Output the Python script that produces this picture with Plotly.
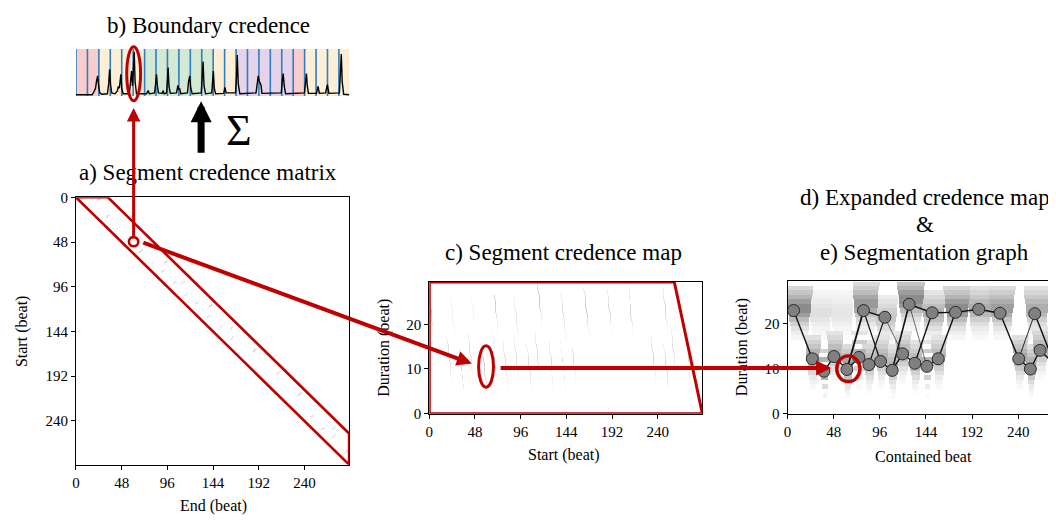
import numpy as np
import plotly.graph_objects as go

W, H = 1056, 527
OFF = 8  # page body margin of the default html template
N_BEATS = 287
N_DUR = 30
FONT = "Liberation Serif"
RED = "#c00000"

# ---------------- data ----------------
# b) boundary credence curve
boundary_x = [0, 17, 19, 20.5, 21.5, 22.7, 23.8, 25, 27,
              33, 34.3, 35.3, 36.3, 37.5, 41,
              43.5, 44.4, 45.5, 46.3, 47.1, 48, 49.5,
              56, 57.3, 58.3, 59.3, 60.2, 61.1, 62, 63.5,
              74, 75.8, 77,
              82.5, 83.6, 84.5, 85.5, 86.5,
              90.5, 91.4, 92.5,
              95, 95.9, 96.7, 97.6, 99,
              105.5, 107, 108, 108.8, 110,
              117, 118.2, 119.4, 120.5, 122,
              131.5, 132.5, 133.4, 134.4, 136,
              142.5, 143.4, 144.2, 145.2, 146.5,
              155, 156.4, 157.5,
              167.5, 168.5, 169.3, 170.3, 172,
              189, 190.3, 191.3, 192.3, 193.2, 194.2, 195.2,
              215.5, 216.5, 217.5, 218.6, 220,
              239.8, 241, 241.9, 242.8, 244,
              252.5, 254.1, 255.5,
              262, 263.9, 265.5,
              276.5, 277.6, 278.5, 279.4, 281, 287]
boundary_y = [0.01, 0.01, 0.08, 0.15, 0.3, 0.42, 0.2, 0.05, 0.02,
              0.03, 0.25, 0.56, 0.22, 0.05, 0.03,
              0.1, 0.19, 0.15, 0.3, 0.45, 0.15, 0.03,
              0.03, 0.3, 0.52, 0.2, 0.5, 0.94, 0.3, 0.03,
              0.03, 0.1, 0.03,
              0.05, 0.25, 0.45, 0.2, 0.05,
              0.04, 0.1, 0.03,
              0.05, 0.3, 0.6, 0.2, 0.04,
              0.05, 0.21, 0.12, 0.15, 0.03,
              0.05, 0.3, 0.42, 0.15, 0.03,
              0.05, 0.35, 0.73, 0.2, 0.03,
              0.05, 0.3, 0.52, 0.15, 0.03,
              0.04, 0.17, 0.05,
              0.05, 0.4, 0.87, 0.25, 0.03,
              0.05, 0.25, 0.42, 0.3, 0.26, 0.22, 0.04,
              0.05, 0.3, 0.47, 0.2, 0.03,
              0.05, 0.3, 0.47, 0.2, 0.04,
              0.04, 0.19, 0.04,
              0.05, 0.23, 0.04,
              0.05, 0.45, 0.89, 0.3, 0.02, 0.01]
downbeats = [0, 12, 24, 36, 48, 60, 72, 84, 96, 108, 120, 132, 144, 156,
             168, 180, 192, 204, 216, 228, 240, 252, 264, 276]
section_start = [0, 24, 72, 144, 168, 228, 240]
section_end = [24, 72, 144, 168, 228, 240, 287]
section_label = ["A", "B", "C", "B", "D", "A", "B"]
section_color = {"A": "#f9cdcd", "B": "#fdefd5", "C": "#d4e9d4", "D": "#e5d3e9"}

# candidate segments (start, duration, credence)
cand_start = [1.5, 24, 46, 70, 92, 116, 141, 165, 189, 212, 248,
              21, 34, 43, 58, 69, 80, 92, 105, 114, 128, 141, 152, 236, 249, 257, 273]
cand_dur = [23, 22, 22, 24, 21, 25, 22, 23, 23, 23, 23,
            12, 9.5, 13, 10, 12.5, 11, 12, 10, 13, 11, 10.5, 12, 12, 10, 14, 11]
cand_cred = [0.45, 0.12, 0.10, 0.40, 0.22, 0.45, 0.30, 0.45, 0.32, 0.38, 0.32,
             0.35, 0.35, 0.30, 0.40, 0.30, 0.30, 0.30, 0.30, 0.30, 0.30, 0.30, 0.30,
             0.35, 0.35, 0.30, 0.30]
# relative credence of neighbouring durations around a candidate
profile_offset = [-6, -5, -4, -3, -2, -1, 0, 1, 2, 3, 4, 5]
profile_value = [0.08, 0.15, 0.25, 0.4, 0.6, 0.85, 1.0, 1.0, 0.85, 0.65, 0.5, 0.35]

# e) segmentation graph nodes (contained beat, duration) and edges
node_x = [6.2, 25.7, 37.8, 48.2, 61.7, 74.2, 79.0, 84.6, 96.7, 101.2, 108.8, 119.6, 126.5,
          132.4, 144.9, 150.4, 156.7, 174.7, 198.9, 221.1, 240.5, 252.6, 257.2, 262.7, 277.6]
node_d = [23.0, 12.2, 9.4, 12.7, 9.8, 12.5, 23.0, 10.9, 11.6, 21.5, 9.6, 13.3, 24.4,
          11.2, 10.5, 22.5, 12.2, 22.6, 23.3, 22.4, 12.2, 9.9, 22.3, 14.1, 11.0]
edge_from = [0, 1, 2, 3, 4, 4, 5, 6, 6, 7, 7, 8, 9, 10, 10, 11, 12, 12, 13, 13, 14,
             15, 16, 17, 18, 19, 20, 20, 21, 22, 23]
edge_to = [1, 2, 3, 4, 5, 6, 7, 8, 9, 8, 9, 10, 11, 11, 12, 13, 14, 15, 14, 15, 16,
           17, 17, 18, 19, 20, 21, 22, 23, 24, 24]
edge_w = [1.4, 1.4, 1.4, 1.4, 1.4, 1.8, 1.4, 1.2, 1.4, 1.4, 1.2, 1.4, 0.6, 1.4, 1.6, 1.4,
          0.6, 1.4, 1.4, 1.4, 1.4, 1.4, 1.4, 1.4, 1.4, 1.4, 1.4, 0.9, 1.4, 1.4, 1.4]

beat_ticks = [0, 48, 96, 144, 192, 240]
dur_ticks = [0, 10, 20]

# ---------------- build maps from candidates ----------------
A = np.zeros((N_BEATS, N_BEATS))   # rows: start, cols: end
C = np.zeros((N_DUR, N_BEATS))     # rows: duration, cols: start
E = np.zeros((N_DUR, N_BEATS))     # rows: duration, cols: contained beat
for s, d, w in zip(cand_start, cand_dur, cand_cred):
    centre = s + d / 2
    for k, p in zip(profile_offset, profile_value):
        r = int(round(d + k))
        if r < 1 or r >= N_DUR:
            continue
        v = w * p
        b0 = int(round(centre - r / 2))
        b1 = b0 + r
        lo, hi = max(b0, 0), min(b1, N_BEATS)
        E[r, lo:hi] = np.maximum(E[r, lo:hi], v)
        if 0 <= b0 < N_BEATS:
            C[r, b0] = max(C[r, b0], 0.45 * v)
            if b1 < N_BEATS:
                A[b0, b1] = max(A[b0, b1], 0.45 * v)


# screen pixel -> paper coordinate (the page shows the figure 8 px in from top-left)
def px(x):
    return (x - OFF) / W


def py(y):
    return 1 - (y - OFF) / H


grey = [[0, "#ffffff"], [1, "#000000"]]
beats = list(range(N_BEATS))
durs = list(range(N_DUR))

fig = go.Figure()
fig.add_trace(go.Heatmap(z=A, x=beats, y=beats, xaxis="x", yaxis="y", colorscale=grey,
                         zmin=0, zmax=1, showscale=False, hoverinfo="skip"))
fig.add_trace(go.Scatter(x=boundary_x, y=boundary_y, xaxis="x2", yaxis="y2", mode="lines",
                         line=dict(color="black", width=1.4), hoverinfo="skip"))
fig.add_trace(go.Heatmap(z=C, x=beats, y=durs, xaxis="x3", yaxis="y3", colorscale=grey,
                         zmin=0, zmax=1, showscale=False, hoverinfo="skip"))
fig.add_trace(go.Heatmap(z=E, x=beats, y=durs, xaxis="x4", yaxis="y4", colorscale=grey,
                         zmin=0, zmax=1, showscale=False, hoverinfo="skip"))
for f, t, lw in zip(edge_from, edge_to, edge_w):
    fig.add_trace(go.Scatter(x=[node_x[f], node_x[t]], y=[node_d[f], node_d[t]],
                             xaxis="x4", yaxis="y4", mode="lines",
                             line=dict(color="#111111", width=lw), hoverinfo="skip"))
fig.add_trace(go.Scatter(x=node_x, y=node_d, xaxis="x4", yaxis="y4", mode="markers",
                         marker=dict(size=12, color="#808080",
                                     line=dict(color="#2a2a2a", width=1)),
                         hoverinfo="skip"))

shapes = []
for s0, s1, lab in zip(section_start, section_end, section_label):
    shapes.append(dict(type="rect", xref="x2", yref="y2 domain", x0=s0, x1=s1, y0=0, y1=1,
                       fillcolor=section_color[lab], line=dict(width=0), layer="below"))
for db in downbeats:
    shapes.append(dict(type="line", xref="x2", yref="y2 domain", x0=db, x1=db, y0=0, y1=1,
                       line=dict(color="#2f7fc0", width=1.6), layer="below"))

band_a = 33.5
shapes.append(dict(type="path", xref="x", yref="y",
                   path=f"M 0,0 L {band_a},0 L {N_BEATS},{N_BEATS - band_a} L {N_BEATS},{N_BEATS} Z",
                   line=dict(color=RED, width=2.6), layer="above"))
top_c = 29.53
shapes.append(dict(type="path", xref="x3", yref="y3",
                   path=f"M 0,-0.13 L 0,{top_c} L {N_BEATS - top_c},{top_c} L {N_BEATS},-0.13 Z",
                   line=dict(color=RED, width=3), layer="above"))
shapes.append(dict(type="circle", xref="paper", yref="paper", x0=px(123.3), x1=px(137.2),
                   y0=py(95.3), y1=py(39.8), line=dict(color=RED, width=3)))
shapes.append(dict(type="circle", xref="paper", yref="paper", x0=px(125.5), x1=px(134.9),
                   y0=py(245.5), y1=py(236.1), line=dict(color=RED, width=2.6)))
shapes.append(dict(type="circle", xref="paper", yref="paper", x0=px(476.8), x1=px(491.8),
                   y0=py(390.8), y1=py(348.2), line=dict(color=RED, width=3)))
shapes.append(dict(type="circle", xref="paper", yref="paper", x0=px(836.7), x1=px(860),
                   y0=py(385), y1=py(358.5), line=dict(color=RED, width=3.4)))

annotations = []


def text(t, x, y, size, angle=0):
    annotations.append(dict(text=t, x=px(x), y=py(y), xref="paper", yref="paper",
                            showarrow=False, xanchor="center", yanchor="middle",
                            textangle=angle, font=dict(family=FONT, size=size, color="black")))


def arrow(tip, tail, color, width, size):
    annotations.append(dict(text="", x=px(tip[0]), y=py(tip[1]), xref="paper", yref="paper",
                            ax=tail[0] - tip[0], ay=tail[1] - tip[1], axref="pixel", ayref="pixel",
                            showarrow=True, arrowhead=2, arrowsize=size, arrowwidth=width,
                            arrowcolor=color, standoff=0, startstandoff=0))


text("b) Boundary credence", 205, 18, 23)
text("a) Segment credence matrix", 205, 169, 23)
text("c) Segment credence map", 562, 252, 23)
text("d) Expanded credence map", 925, 195, 23)
text("&amp;", 925, 223, 23)
text("e) Segmentation graph", 925, 252, 23)
text("End (beat)", 210, 513, 16)
text("Start (beat)", 18, 333, 16, -90)
text("Start (beat)", 563, 461, 16)
text("Duration (beat)", 381, 350, 16, -90)
text("Contained beat", 924, 462, 16)
text("Duration (beat)", 741, 350, 16, -90)
text("Σ", 236, 126, 44)

arrow((130.2, 103), (130.2, 234), RED, 3, 0.9)
arrow((470, 366.5), (140, 245), RED, 4, 0.75)
arrow((831, 371), (499, 371), RED, 4, 0.75)
arrow((198, 96), (198, 149), "black", 7, 0.6)

axis_common = dict(showline=True, linecolor="black", linewidth=1, mirror=True,
                   ticks="outside", ticklen=4, tickwidth=1, tickcolor="black",
                   showgrid=False, zeroline=False, fixedrange=True,
                   tickfont=dict(family=FONT, size=15, color="black"))

d_right = (W + OFF - 787.3) / 0.9655   # beats visible up to the window edge

fig.update_layout(
    width=W, height=H, margin=dict(l=0, r=0, t=0, b=0, pad=0),
    paper_bgcolor="white", plot_bgcolor="white", showlegend=False, hovermode=False,
    xaxis=dict(domain=[px(72.3), px(346.7)], range=[0, N_BEATS], anchor="y",
               tickvals=beat_ticks, **axis_common),
    yaxis=dict(domain=[py(470.7), py(195)], range=[N_BEATS, 0], anchor="x",
               tickvals=beat_ticks, **axis_common),
    xaxis2=dict(domain=[px(72.3), px(347)], range=[0, N_BEATS], anchor="y2", visible=False,
                fixedrange=True),
    yaxis2=dict(domain=[py(90.5), py(42)], range=[-0.017, 1.0], anchor="x2", visible=False,
                fixedrange=True),
    xaxis3=dict(domain=[px(427.3), px(701.7)], range=[0, N_BEATS], anchor="y3",
                tickvals=beat_ticks, **axis_common),
    yaxis3=dict(domain=[py(418.3), py(282.3)], range=[-0.13, 29.53], anchor="x3",
                tickvals=dur_ticks, **axis_common),
    xaxis4=dict(domain=[px(787.3), 1.0], range=[0, d_right], anchor="y4",
                tickvals=beat_ticks, **axis_common),
    yaxis4=dict(domain=[py(418.3), py(281.7)], range=[-0.13, 29.53], anchor="x4",
                tickvals=dur_ticks, **axis_common),
    shapes=shapes, annotations=annotations,
)

fig.write_html("out.html")
